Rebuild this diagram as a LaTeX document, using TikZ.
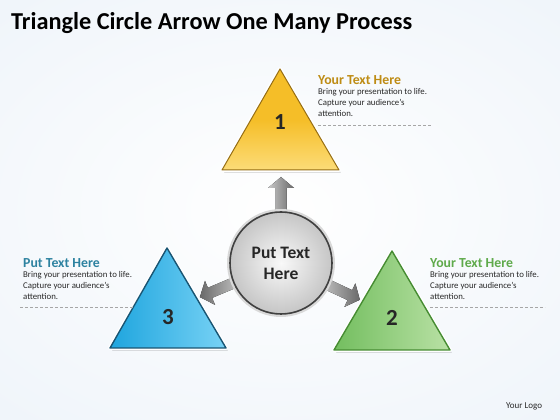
\documentclass[tikz,border=0pt]{standalone}
\usepackage{fontspec}
\setmainfont{Carlito}
\usetikzlibrary{arrows.meta}
\definecolor{bgblue}{RGB}{226,236,246}
\definecolor{yelA}{RGB}{245,190,40}
\definecolor{yelB}{RGB}{252,220,120}
\definecolor{yelD}{RGB}{150,110,20}
\definecolor{yelT}{RGB}{190,140,20}
\definecolor{bluA}{RGB}{30,165,222}
\definecolor{bluB}{RGB}{120,210,245}
\definecolor{bluD}{RGB}{25,85,115}
\definecolor{bluT}{RGB}{45,130,160}
\definecolor{grnA}{RGB}{115,190,95}
\definecolor{grnB}{RGB}{185,225,165}
\definecolor{grnD}{RGB}{70,140,50}
\definecolor{grnT}{RGB}{95,170,75}
\definecolor{txtgray}{RGB}{40,40,40}
\definecolor{arrlight}{RGB}{200,200,200}
\definecolor{arrdark}{RGB}{105,105,105}
\tikzset{
  heading/.style={anchor=west, inner sep=0pt, font=\fontsize{13.8}{15}\selectfont\bfseries},
  body/.style={anchor=north west, inner sep=0pt, align=left, text=txtgray, font=\fontsize{8.8}{11.2}\selectfont},
  numlabel/.style={inner sep=0pt, font=\fontsize{23}{26}\selectfont\bfseries, text=black!85},
  sepline/.style={densely dashed, gray!70, line width=0.6pt},
  halo/.style={draw=white, line width=4pt, line join=round},
}
\newcommand{\fatarrow}[5]{% angle, start radius, end radius, start colour, end colour
  \begin{scope}[shift={(c.center)}, rotate=#1]
    \fill[left color=#4, right color=#5]
      (#2,-5.5) -- (#3-11,-5.5) -- (#3-11,-13) -- (#3,0) -- (#3-11,13) -- (#3-11,5.5) -- (#2,5.5) -- cycle;
  \end{scope}}
\begin{document}
\begin{tikzpicture}[x=1pt,y=1pt]
\useasboundingbox (0,0) rectangle (560,420);
\shade[inner color=white, outer color=bgblue] (-120,-60) rectangle (680,480);
\fill[white, opacity=0.5] (0,0) rectangle (560,420);

\node[anchor=base west, inner sep=0pt, font=\fontsize{24.3}{27}\selectfont\bfseries] (title) at (11,390) {Triangle Circle Arrow One Many Process};

% circle node
\node[circle, minimum size=104pt, inner sep=0pt] (c) at (281,157) {};

% arrows
\fatarrow{90}{45}{86}{arrlight}{arrdark}
\fatarrow{202.8}{45}{88}{arrdark}{arrlight}
\fatarrow{-25}{45}{87}{arrlight}{arrdark}

% triangle 1 (yellow)
\coordinate (t1a) at (280,351);
\coordinate (t1l) at (222,250);
\coordinate (t1r) at (339,250);
\fill[black, opacity=0.12] ([shift={(2,-3)}]t1a) -- ([shift={(2,-3)}]t1l) -- ([shift={(2,-3)}]t1r) -- cycle;
\draw[halo] (t1a) -- (t1l) -- (t1r) -- cycle;
\shade[top color=yelA, bottom color=yelB, middle color=yelA] (t1a) -- (t1l) -- (t1r) -- cycle;
\draw[yelD, line width=1pt, line join=round] (t1a) -- (t1l) -- (t1r) -- cycle;
\node[numlabel] (n1) at (280,298) {1};

% triangle 3 (blue)
\coordinate (t3a) at (167,172);
\coordinate (t3l) at (110,72);
\coordinate (t3r) at (226,72);
\fill[black, opacity=0.12] ([shift={(2,-3)}]t3a) -- ([shift={(2,-3)}]t3l) -- ([shift={(2,-3)}]t3r) -- cycle;
\draw[halo] (t3a) -- (t3l) -- (t3r) -- cycle;
\shade[left color=bluA, right color=bluB] (t3a) -- (t3l) -- (t3r) -- cycle;
\draw[bluD, line width=1.4pt, line join=round] (t3a) -- (t3l) -- (t3r) -- cycle;
\node[numlabel] (n3) at (168,103) {3};

% triangle 2 (green)
\coordinate (t2a) at (392,169);
\coordinate (t2l) at (334,70);
\coordinate (t2r) at (450,70);
\fill[black, opacity=0.12] ([shift={(2,-3)}]t2a) -- ([shift={(2,-3)}]t2l) -- ([shift={(2,-3)}]t2r) -- cycle;
\draw[halo] (t2a) -- (t2l) -- (t2r) -- cycle;
\shade[left color=grnA, right color=grnB] (t2a) -- (t2l) -- (t2r) -- cycle;
\draw[grnD, line width=1.4pt, line join=round] (t2a) -- (t2l) -- (t2r) -- cycle;
\node[numlabel] (n2) at (392,102) {2};

% center circle
\fill[gray!30] (c.center) circle (54);
\shade[inner color=gray!5, outer color=gray!45] (c.center) circle (51);
\draw[black!75, line width=1.6pt] (c.center) circle (51);
\node[align=center, inner sep=0pt, font=\fontsize{17.5}{21}\selectfont\bfseries, text=black!85] (ct) at (c.center) {Put Text\\Here};

% text block 1
\node[heading, text=yelT] (h1) at (318,340) {Your Text Here};
\node[body] (b1) at (318,332) {Bring your presentation to life.\\Capture your audience's\\attention.};
\coordinate (d1a) at (318,295);
\coordinate (d1b) at (431,295);
\draw[sepline] (d1a) -- (d1b);

% text block 3
\node[heading, text=bluT] (h3) at (23,157) {Put Text Here};
\node[body] (b3) at (23,149) {Bring your presentation to life.\\Capture your audience's\\attention.};
\coordinate (d3a) at (20,113);
\coordinate (d3b) at (133,113);
\draw[sepline] (d3a) -- (d3b);

% text block 2
\node[heading, text=grnT] (h2) at (430,157) {Your Text Here};
\node[body] (b2) at (430,149) {Bring your presentation to life.\\Capture your audience's\\attention.};
\coordinate (d2a) at (430,113);
\coordinate (d2b) at (545,113);
\draw[sepline] (d2a) -- (d2b);

\node[anchor=base west, inner sep=0pt, text=txtgray, font=\fontsize{9}{10}\selectfont] (logo) at (506,11) {Your Logo};
\end{tikzpicture}
\end{document}
